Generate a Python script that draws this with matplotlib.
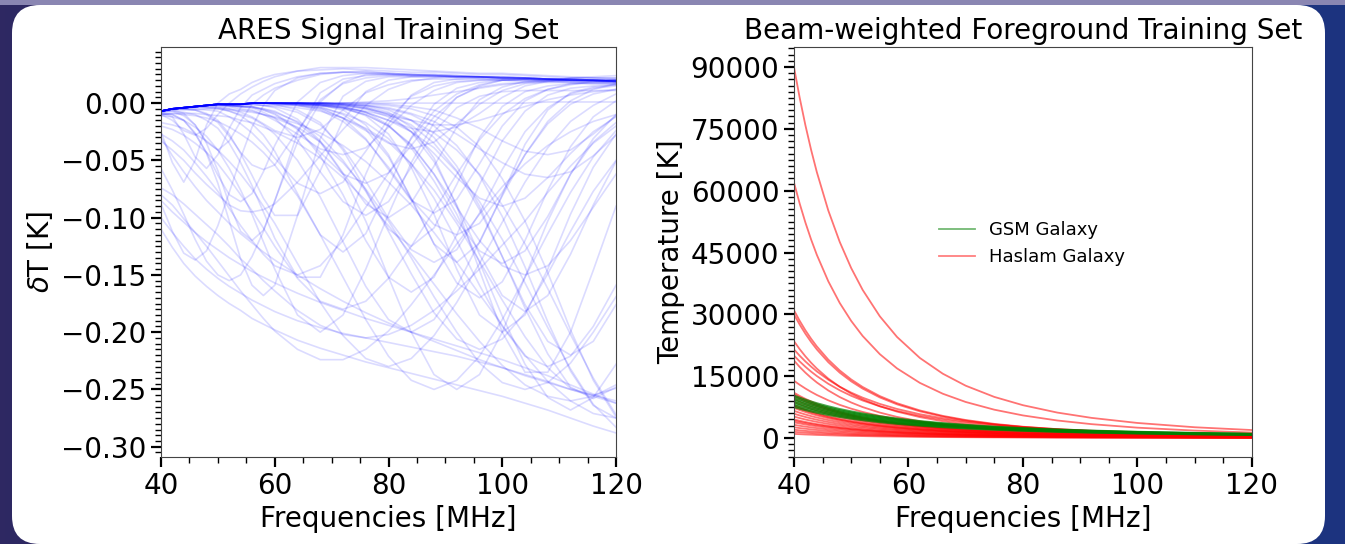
import numpy as np
import matplotlib
matplotlib.use("Agg")
import matplotlib.pyplot as plt
from matplotlib.patches import FancyBboxPatch, Rectangle
from matplotlib.colors import LinearSegmentedColormap
from matplotlib.lines import Line2D
from matplotlib.ticker import MultipleLocator

# frequency grid (MHz) of the signal curves
signal_freqs = [40, 42, 44, 46, 48, 50, 52, 54, 56, 58, 60,
                64, 68, 72, 76, 80, 84, 88, 92, 96, 100, 104, 108, 112, 116, 120]

# ARES signal training set, dT in mK
ares_mK = [
    [-25, -52, -69, -50, -19, 0, 8, 12, 18, 22, 25, 28, 29, 30, 29, 28, 27, 27, 26, 25, 25, 24, 23, 22, 22, 21],
    [-9, -12, -27, -47, -57, -45, -22, -4, 7, 12, 17, 23, 26, 27, 28, 26, 25, 25, 24, 23, 23, 22, 21, 21, 20, 20],
    [-88, -112, -131, -137, -129, -107, -78, -48, -21, -2, 11, 22, 26, 27, 26, 25, 24, 24, 23, 23, 22, 22, 21, 20, 20, 19],
    [-57, -76, -97, -119, -138, -150, -155, -150, -134, -112, -85, -34, 1, 18, 25, 25, 24, 24, 23, 23, 22, 22, 21, 20, 20, 19],
    [-9, -10, -15, -27, -43, -63, -80, -86, -79, -60, -37, 1, 18, 24, 26, 26, 25, 24, 23, 23, 22, 22, 21, 20, 20, 19],
    [-7, -5, -5, -6, -9, -15, -27, -44, -63, -83, -98, -98, -59, -15, 10, 20, 23, 23, 23, 23, 22, 22, 21, 20, 20, 19],
    [-8, -7, -8, -10, -15, -22, -35, -52, -72, -95, -118, -152, -152, -115, -62, -18, 7, 18, 21, 22, 21, 21, 20, 20, 19, 19],
    [-7, -5, -5, -5, -6, -7, -12, -18, -26, -36, -48, -70, -79, -69, -42, -14, 6, 15, 19, 20, 20, 19, 19, 18, 18, 18],
    [-7, -5, -4, -3, -2, -1, -2, -3, -3, -6, -10, -23, -43, -62, -70, -61, -37, -12, 5, 14, 17, 18, 18, 18, 17, 17],
    [-7, -6, -9, -19, -34, -41, -33, -16, -1, 7, 13, 20, 25, 27, 27, 26, 25, 25, 24, 23, 23, 22, 21, 21, 20, 20],
    [-8, -7, -11, -19, -35, -59, -88, -112, -120, -111, -86, -26, 9, 21, 24, 25, 25, 24, 23, 23, 22, 21, 21, 20, 20, 19],
    [-9, -10, -15, -26, -44, -70, -103, -136, -159, -168, -159, -98, -31, 6, 19, 23, 23, 23, 23, 22, 22, 21, 21, 20, 20, 19],
    [-10, -15, -24, -28, -22, -10, 0, 8, 14, 19, 23, 28, 31, 31, 31, 30, 29, 28, 27, 26, 26, 25, 24, 23, 22, 22],
    [-7, -5, -5, -6, -10, -17, -29, -43, -54, -58, -54, -24, 3, 17, 22, 24, 24, 24, 24, 23, 23, 22, 21, 21, 20, 20],
    [-7, -5, -4, -3, -3, -3, -5, -8, -12, -18, -24, -30, -23, -6, 9, 16, 20, 21, 21, 21, 20, 20, 20, 19, 19, 19],
    [-7, -5, -4, -3, -2, -2, -3, -5, -6, -10, -15, -27, -40, -45, -39, -21, -2, 11, 18, 20, 21, 21, 20, 20, 20, 19],
    [-7, -5, -4, -3, -2, -1, -1, -1, -1, -2, -4, -14, -33, -61, -88, -100, -87, -55, -21, 3, 14, 19, 20, 20, 19, 19],
    [-7, -5, -4, -3, -2, -1, -1, -1, 0, 0, -1, -6, -17, -41, -76, -110, -125, -109, -71, -30, -3, 10, 15, 17, 17, 17],
    [-7, -5, -4, -3, -2, -1, -1, -1, 0, 0, 0, -1, -4, -13, -31, -58, -85, -96, -84, -53, -20, 2, 12, 17, 18, 18],
    [-7, -5, -4, -3, -2, -1, -1, -1, 0, 0, 0, 0, -2, -6, -19, -45, -84, -123, -139, -122, -80, -36, -6, 9, 14, 16],
    [-7, -5, -4, -3, -2, -1, -1, -1, -1, -2, -3, -8, -19, -39, -68, -101, -128, -139, -128, -96, -58, -25, -4, 8, 13, 15],
    [-7, -5, -4, -3, -2, -1, -2, -3, -3, -6, -9, -22, -46, -80, -120, -152, -165, -152, -115, -71, -33, -7, 7, 13, 15, 16],
    [-7, -5, -4, -3, -2, -1, -1, -1, 0, 0, 0, -1, -3, -10, -23, -47, -83, -123, -157, -170, -156, -120, -76, -38, -12, 2],
    [-7, -5, -4, -3, -2, -1, -1, -1, 0, 0, 0, 0, -1, -4, -11, -27, -56, -97, -145, -185, -200, -185, -145, -97, -56, -27],
    [-7, -5, -4, -3, -2, -1, -1, -1, 0, 0, 0, 0, 0, -1, -4, -10, -25, -51, -89, -132, -168, -182, -168, -132, -89, -51],
    [-7, -5, -4, -3, -2, -1, -1, -1, 0, 0, 0, 0, 0, -1, -2, -4, -9, -16, -27, -40, -52, -62, -65, -60, -46, -28],
    [-7, -5, -4, -3, -2, -1, -1, -1, 0, 0, 0, 0, -1, -2, -5, -12, -25, -44, -65, -83, -90, -83, -65, -44, -25, -12],
    [-7, -5, -4, -3, -2, -1, -1, -1, 0, 0, 0, 0, 0, -1, -2, -6, -15, -30, -55, -90, -134, -176, -208, -220, -208, -176],
    [-7, -5, -4, -3, -2, -1, -1, -1, 0, 0, -1, -2, -6, -16, -32, -56, -84, -106, -115, -105, -78, -45, -16, 2, 12, 17],
    [-7, -5, -4, -3, -2, -1, -1, -1, 0, 0, 0, 0, -1, -3, -8, -19, -39, -68, -102, -129, -140, -129, -99, -62, -31, -10],
    [-7, -5, -4, -3, -3, -4, -7, -11, -18, -28, -42, -79, -115, -130, -114, -73, -30, -1, 13, 18, 20, 20, 19, 19, 19, 18],
    [-7, -5, -4, -3, -2, -1, -1, -1, 0, 0, 0, 0, -2, -4, -10, -20, -37, -62, -91, -120, -142, -150, -142, -120, -91, -62],
    [-7, -5, -4, -3, -2, -1, -1, -1, 0, 0, 0, 0, 0, -1, -3, -8, -21, -48, -90, -146, -200, -235, -235, -200, -146, -90],
    [-110, -126, -140, -151, -160, -168, -175, -181, -188, -193, -198, -207, -214, -220, -226, -231, -236, -241, -246, -251, -256, -262, -268, -275, -282, -288],
    [-100, -113, -125, -136, -145, -153, -160, -166, -172, -177, -182, -190, -196, -201, -205, -209, -213, -217, -221, -226, -231, -237, -243, -250, -256, -262],
    [-30, -46, -60, -73, -85, -95, -105, -114, -122, -130, -137, -150, -162, -173, -183, -192, -200, -208, -216, -224, -231, -238, -244, -250, -255, -260],
    [-7, -5, -4, -3, -2, -1, -1, -1, 0, 0, 0, -1, -2, -5, -10, -20, -36, -62, -97, -139, -186, -228, -257, -268, -257, -228],
    [-7, -5, -4, -3, -2, -1, -1, -1, 0, 0, 0, 0, 0, -1, -2, -5, -10, -20, -37, -63, -99, -143, -191, -234, -264, -275],
    [-7, -5, -4, -3, -2, -1, -1, -1, 0, 0, -1, -1, -2, -4, -8, -15, -25, -39, -60, -86, -119, -157, -196, -232, -263, -283],
    [-7, -5, -4, -3, -2, -1, -2, -2, -1, -2, -2, -4, -7, -13, -22, -34, -53, -76, -105, -138, -172, -204, -231, -249, -255, -249],
    [-7, -5, -4, -3, -2, -1, -1, -1, 0, 0, 0, 0, -1, -2, -4, -10, -19, -35, -59, -93, -134, -179, -219, -248, -258, -248],
    [-7, -5, -4, -3, -2, -1, -1, -1, 0, 0, 0, -1, -1, -2, -5, -9, -15, -26, -41, -62, -89, -123, -162, -202, -240, -272],
    [-10, -9, -9, -9, -10, -11, -12, -15, -17, -21, -25, -35, -48, -65, -85, -107, -132, -158, -184, -208, -229, -246, -256, -260, -256, -246],
    [-8, -6, -6, -6, -5, -5, -6, -7, -8, -10, -12, -18, -26, -37, -51, -69, -89, -113, -139, -167, -194, -220, -243, -260, -271, -275],
    [-7, -5, -5, -4, -4, -4, -5, -6, -7, -10, -13, -21, -34, -52, -75, -103, -135, -169, -200, -227, -244, -250, -244, -227, -200, -169],
    [-7, -5, -4, -3, -2, -1, -1, -1, 0, 0, 0, 0, 0, 0, -1, -2, -5, -11, -21, -38, -66, -103, -148, -198, -242, -274],
    [-7, -5, -4, -3, -2, -1, -1, -1, 0, 0, -1, -2, -4, -9, -17, -31, -53, -83, -120, -159, -195, -221, -230, -221, -195, -159],
    [-7, -5, -4, -3, -2, -2, -3, -3, -4, -5, -8, -16, -29, -50, -77, -112, -149, -183, -206, -215, -206, -183, -149, -112, -77, -50],
    [-85, -95, -104, -113, -121, -128, -135, -141, -147, -152, -157, -166, -174, -181, -188, -194, -200, -206, -212, -218, -224, -231, -238, -246, -254, -262],
    [-74, -80, -88, -97, -106, -115, -125, -136, -145, -155, -164, -181, -194, -202, -205, -202, -194, -181, -164, -145, -124, -103, -78, -55, -35, -20],
    [-17, -19, -22, -27, -33, -41, -51, -62, -75, -90, -105, -140, -174, -203, -223, -230, -223, -203, -174, -140, -104, -69, -39, -16, -2, 8],
    [-10, -9, -10, -11, -13, -16, -21, -27, -34, -43, -54, -81, -115, -152, -189, -221, -242, -250, -242, -221, -189, -152, -114, -78, -47, -24],
    [-20, -23, -28, -35, -43, -53, -66, -80, -94, -109, -125, -153, -173, -180, -173, -153, -125, -94, -62, -32, -10, 4, 12, 16, 19, 20],
    [-27, -33, -41, -52, -64, -77, -92, -107, -120, -132, -142, -150, -142, -120, -91, -61, -31, -7, 8, 16, 20, 21, 21, 20, 20, 19],
    [-33, -41, -50, -61, -71, -80, -89, -94, -95, -93, -88, -69, -46, -23, -2, 12, 19, 22, 23, 23, 22, 22, 21, 21, 20, 20],
    [-7, -5, -4, -3, -2, -1, -2, -3, -3, -5, -7, -17, -34, -62, -103, -152, -200, -237, -250, -237, -200, -152, -103, -62, -34, -17],
    [-7, -5, -4, -3, -4, -5, -7, -10, -13, -19, -27, -50, -82, -121, -160, -189, -200, -189, -160, -121, -81, -45, -18, -1, 8, 12],
    [-11, -12, -15, -21, -29, -41, -57, -76, -97, -121, -145, -185, -200, -185, -145, -97, -52, -17, 5, 15, 20, 21, 21, 21, 20, 20],
    [-80, -89, -101, -113, -125, -138, -151, -164, -176, -188, -199, -215, -224, -224, -215, -199, -176, -150, -123, -97, -73, -53, -37, -25, -16, -10],
    [-7, -5, -4, -3, -2, -1, -1, -1, 0, 0, 0, 0, 0, 0, 0, 0, 0, 0, 0, 0, 0, 0, 1, 1, 1, 1],
    [-7, -5, -4, -3, -2, -1, -1, -1, 0, 0, 0, 0, 0, 0, 1, 2, 4, 7, 10, 13, 16, 18, 20, 22, 23, 24],
    [-7, -5, -4, -3, -2, -1, -1, -1, 0, 0, 0, -1, -2, -4, -7, -11, -15, -19, -19, -15, -9, -3, 3, 7, 10, 12],
    [-7, -5, -4, -3, -2, -1, -1, -1, 0, 0, 0, -2, -5, -13, -24, -35, -40, -34, -18, -1, 11, 17, 19, 20, 20, 20],
    [-7, -5, -4, -3, -2, -1, -1, -1, 0, 0, 0, 0, -1, -3, -8, -15, -22, -25, -21, -9, 5, 15, 19, 22, 22, 22],
    [-7, -5, -4, -3, -2, -1, -1, -1, 0, 0, 0, 0, 0, 0, 0, -1, -3, -6, -13, -22, -33, -42, -45, -41, -27, -11],
    [-7, -5, -4, -3, -2, -1, -2, -3, -4, -8, -13, -32, -60, -86, -98, -86, -56, -25, -4, 6, 10, 11, 11, 11, 11, 11],
]

# frequency grid (MHz) of the foreground curves
fg_freqs = [40, 41, 42, 43, 44, 46, 48, 50, 52, 55, 58, 62, 66, 70, 75, 80, 86, 92, 100, 110, 120]

# beam-weighted foregrounds, Haslam based (K)
haslam_K = [
    [90000, 82550, 75870, 69880, 64480, 55180, 47550, 41220, 35930, 29520, 24520, 19410, 15600, 12690, 9970, 7960, 6170, 4880, 3650, 2610, 1930],
    [62000, 56870, 52270, 48140, 44420, 38010, 32750, 28400, 24750, 20340, 16890, 13370, 10740, 8740, 6870, 5480, 4250, 3360, 2510, 1800, 1330],
    [31000, 28430, 26130, 24070, 22210, 19010, 16380, 14200, 12380, 10170, 8440, 6690, 5370, 4370, 3430, 2740, 2130, 1680, 1260, 900, 660],
    [30000, 27520, 25290, 23290, 21490, 18390, 15850, 13740, 11980, 9840, 8170, 6470, 5200, 4230, 3320, 2650, 2060, 1630, 1220, 870, 640],
    [23500, 21550, 19810, 18250, 16840, 14410, 12420, 10760, 9380, 7710, 6400, 5070, 4070, 3310, 2600, 2080, 1610, 1270, 950, 680, 500],
    [21500, 19960, 18570, 17310, 16150, 14140, 12440, 11010, 9790, 8270, 7050, 5770, 4790, 4010, 3260, 2690, 2160, 1770, 1380, 1030, 800],
    [20000, 18570, 17280, 16100, 15030, 13150, 11570, 10240, 9100, 7690, 6560, 5370, 4450, 3730, 3030, 2500, 2010, 1640, 1280, 960, 740],
    [18800, 17240, 15850, 14600, 13470, 11530, 9930, 8610, 7500, 6170, 5120, 4060, 3260, 2650, 2080, 1660, 1290, 1020, 760, 550, 400],
    [13900, 12910, 12010, 11190, 10440, 9140, 8040, 7120, 6330, 5350, 4560, 3730, 3090, 2590, 2110, 1740, 1400, 1140, 890, 670, 510],
    [11000, 10210, 9500, 8860, 8260, 7230, 6370, 5630, 5010, 4230, 3610, 2950, 2450, 2050, 1670, 1380, 1110, 900, 700, 530, 410],
    [10600, 9840, 9160, 8530, 7960, 6970, 6130, 5430, 4830, 4080, 3480, 2850, 2360, 1980, 1610, 1330, 1070, 870, 680, 510, 390],
    [10200, 9470, 8810, 8210, 7660, 6710, 5900, 5220, 4640, 3920, 3350, 2740, 2270, 1900, 1550, 1280, 1030, 840, 650, 490, 380],
    [9500, 8820, 8210, 7650, 7140, 6250, 5500, 4860, 4320, 3650, 3120, 2550, 2110, 1770, 1440, 1190, 960, 780, 610, 460, 350],
    [8800, 8170, 7600, 7080, 6610, 5790, 5090, 4510, 4010, 3390, 2890, 2360, 1960, 1640, 1330, 1100, 890, 720, 560, 420, 330],
    [8000, 7430, 6910, 6440, 6010, 5260, 4630, 4100, 3640, 3080, 2620, 2150, 1780, 1490, 1210, 1000, 800, 660, 510, 380, 300],
    [7700, 7150, 6650, 6200, 5790, 5060, 4460, 3940, 3510, 2960, 2530, 2070, 1710, 1440, 1170, 960, 770, 630, 490, 370, 280],
    [7300, 6780, 6310, 5880, 5480, 4800, 4220, 3740, 3320, 2810, 2390, 1960, 1620, 1360, 1110, 910, 730, 600, 470, 350, 270],
    [6600, 6130, 5700, 5310, 4960, 4340, 3820, 3380, 3000, 2540, 2160, 1770, 1470, 1230, 1000, 830, 660, 540, 420, 320, 240],
    [5900, 5480, 5100, 4750, 4430, 3880, 3410, 3020, 2690, 2270, 1940, 1580, 1310, 1100, 900, 740, 590, 480, 380, 280, 220],
    [5200, 4830, 4490, 4190, 3910, 3420, 3010, 2660, 2370, 2000, 1710, 1400, 1160, 970, 790, 650, 520, 430, 330, 250, 190],
    [4500, 4180, 3890, 3620, 3380, 2960, 2600, 2300, 2050, 1730, 1480, 1210, 1000, 840, 680, 560, 450, 370, 290, 220, 170],
    [4200, 3900, 3630, 3380, 3160, 2760, 2430, 2150, 1910, 1620, 1380, 1130, 930, 780, 640, 530, 420, 350, 270, 200, 160],
    [3800, 3530, 3280, 3060, 2850, 2500, 2200, 1950, 1730, 1460, 1250, 1020, 850, 710, 580, 480, 380, 310, 240, 180, 140],
    [3200, 2970, 2760, 2580, 2400, 2100, 1850, 1640, 1460, 1230, 1050, 860, 710, 600, 490, 400, 320, 260, 200, 150, 120],
    [2600, 2410, 2250, 2090, 1950, 1710, 1500, 1330, 1180, 1000, 850, 700, 580, 490, 390, 330, 260, 210, 170, 130, 100],
    [2000, 1860, 1730, 1610, 1500, 1320, 1160, 1020, 910, 770, 660, 540, 450, 370, 300, 250, 200, 160, 130, 100, 70],
    [1500, 1390, 1300, 1210, 1130, 990, 870, 770, 680, 580, 490, 400, 330, 280, 230, 190, 150, 120, 100, 70, 60],
    [1000, 930, 860, 810, 750, 660, 580, 510, 460, 380, 330, 270, 220, 190, 150, 130, 100, 80, 60, 50, 40],
]

# beam-weighted foregrounds, GSM based (K)
gsm_K = [
    [10300, 9780, 9300, 8850, 8430, 7680, 7020, 6450, 5940, 5280, 4720, 4100, 3600, 3180, 2750, 2400, 2060, 1790, 1500, 1230, 1020],
    [9900, 9400, 8940, 8510, 8100, 7380, 6750, 6200, 5710, 5070, 4540, 3940, 3460, 3060, 2640, 2310, 1980, 1720, 1450, 1180, 990],
    [9500, 9020, 8570, 8160, 7780, 7080, 6480, 5950, 5480, 4870, 4350, 3780, 3320, 2930, 2540, 2220, 1900, 1650, 1390, 1140, 950],
    [9100, 8640, 8210, 7820, 7450, 6790, 6210, 5700, 5250, 4660, 4170, 3630, 3180, 2810, 2430, 2120, 1820, 1580, 1330, 1090, 910],
    [8700, 8260, 7850, 7470, 7120, 6490, 5930, 5450, 5010, 4460, 3990, 3470, 3040, 2690, 2320, 2030, 1740, 1510, 1270, 1040, 870],
    [8300, 7880, 7490, 7130, 6790, 6190, 5660, 5200, 4780, 4250, 3800, 3310, 2900, 2560, 2220, 1940, 1660, 1440, 1210, 990, 830],
    [7900, 7500, 7130, 6790, 6470, 5890, 5390, 4940, 4550, 4050, 3620, 3150, 2760, 2440, 2110, 1840, 1580, 1370, 1150, 940, 790],
    [7500, 7120, 6770, 6440, 6140, 5590, 5110, 4690, 4320, 3840, 3440, 2990, 2620, 2320, 2000, 1750, 1500, 1300, 1100, 900, 750],
]

plt.rcParams['font.family'] = ['DejaVu Sans']
plt.rcParams['font.size'] = 20

fig = plt.figure(figsize=(13.45, 5.44), dpi=100)

# slide background + white card
bg = fig.add_axes([0, 0, 1, 1], zorder=-10)
bg_cmap = LinearSegmentedColormap.from_list('bg', ['#2e2862', '#262f72', '#1c3480'])
bg.imshow(np.linspace(0, 1, 256)[None, :], cmap=bg_cmap, aspect='auto',
          extent=[0, 1, 0, 1], transform=bg.transAxes)
bg.add_patch(Rectangle((0, 0.99), 1, 0.01, transform=bg.transAxes,
                       fc='#8a86b2', ec='none'))
bg.add_patch(FancyBboxPatch((0.12, 0.0), 13.13, 5.39,
                            boxstyle="round,pad=0,rounding_size=0.28",
                            transform=fig.dpi_scale_trans, fc='white', ec='none'))
bg.set_xlim(0, 1)
bg.set_ylim(0, 1)
bg.axis('off')


def style_axes(ax):
    ax.set_xlim(40, 120)
    ax.xaxis.set_major_locator(MultipleLocator(20))
    ax.xaxis.set_minor_locator(MultipleLocator(5))
    ax.tick_params(which='major', length=7, width=1.6, labelsize=20)
    ax.tick_params(which='minor', length=4, width=1.0)
    for sp in ax.spines.values():
        sp.set_linewidth(0.8)
        sp.set_color('#444444')
    ax.set_xlabel('Frequencies [MHz]', fontsize=20)


# left: ARES signals
ax1 = fig.add_axes([0.1197, 0.1599, 0.3383, 0.7537])
for row in ares_mK:
    ax1.plot(signal_freqs, np.array(row) / 1000.0, color='blue', alpha=0.14, lw=1.2)
style_axes(ax1)
ax1.set_ylim(-0.309, 0.049)
ax1.yaxis.set_major_locator(MultipleLocator(0.05))
ax1.yaxis.set_minor_locator(MultipleLocator(0.005))
ax1.set_ylabel(r'$\delta$T [K]', fontsize=20)
ax1.set_title('ARES Signal Training Set', fontsize=20)

# right: foregrounds
ax2 = fig.add_axes([0.5903, 0.1599, 0.3405, 0.7537])
for row in haslam_K:
    ax2.plot(fg_freqs, row, color='red', alpha=0.55, lw=1.3)
for row in gsm_K:
    ax2.plot(fg_freqs, row, color='green', alpha=0.7, lw=1.5)
style_axes(ax2)
ax2.set_ylim(-4610, 94850)
ax2.yaxis.set_major_locator(MultipleLocator(15000))
ax2.yaxis.set_minor_locator(MultipleLocator(1500))
ax2.set_ylabel('Temperature [K]', fontsize=20)
ax2.set_title('Beam-weighted Foreground Training Set', fontsize=20)
handles = [Line2D([], [], color='green', alpha=0.55, lw=1.3),
           Line2D([], [], color='red', alpha=0.5, lw=1.3)]
ax2.legend(handles, ['GSM Galaxy', 'Haslam Galaxy'], loc='center',
           bbox_to_anchor=(0.52, 0.52), frameon=False, fontsize=13)

fig.savefig('out.png', dpi=100)
